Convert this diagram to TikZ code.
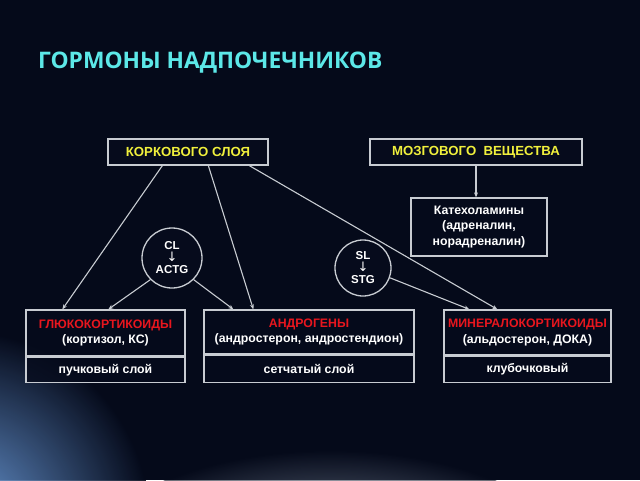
\documentclass[tikz,border=0pt]{standalone}
\usepackage{fontspec}
\setmainfont{Liberation Sans}
\newfontfamily\titlefont{Open Sans}
\newfontfamily\arrfont{DejaVu Sans}
\usetikzlibrary{arrows.meta,calc}
\definecolor{bg}{RGB}{5,10,26}
\definecolor{boxfill}{RGB}{6,11,28}
\definecolor{edge}{RGB}{200,204,210}
\definecolor{ttl}{RGB}{92,232,232}
\definecolor{yel}{RGB}{240,240,60}
\definecolor{redt}{RGB}{232,22,30}
\definecolor{swoosh}{RGB}{70,140,230}
\newcommand{\darr}{{\arrfont\fontsize{13}{11}\mdseries\selectfont ↓}}
\begin{document}
\begin{tikzpicture}[x=1pt,y=-1pt,
  hbox/.style={draw=edge,line width=1.3pt,fill=boxfill,inner sep=0pt,align=center,font=\bfseries\fontsize{13.2}{15}\selectfont},
  part/.style={draw=edge,line width=1.3pt,fill=boxfill,fill opacity=0.75,text opacity=1,inner sep=0pt,align=center,text=white,font=\bfseries\fontsize{12.3}{15.5}\selectfont},
  circ/.style={draw=edge,line width=1.3pt,circle,fill=boxfill,inner sep=0pt,align=center,text=white,font=\bfseries\fontsize{11.5}{12}\selectfont},
  conn/.style={draw=edge,line width=1.1pt,-{Stealth[length=5pt,width=4pt]}}]
\useasboundingbox (0,0) rectangle (640,480);
\fill[bg] (0,0) rectangle (640,480);
\begin{scope}
\clip (0,0) rectangle (640,480);
\shade[inner color=swoosh!75,outer color=bg,opacity=0.9] (-40,520) circle (190);
\shade[inner color=swoosh!25,outer color=bg,opacity=0.6] (330,560) ellipse (240 and 110);
\end{scope}
% title
\node[anchor=west,text=ttl,font=\titlefont\bfseries\fontsize{22.8}{26}\selectfont,inner sep=0pt] (title) at (38,63) {ГОРМОНЫ НАДПОЧЕЧНИКОВ};
% top boxes
\node[hbox,text=yel,minimum width=160,minimum height=26] (kor) at (188,152) {КОРКОВОГО СЛОЯ};
\node[hbox,text=yel,minimum width=212,minimum height=26] (moz) at (476,152) {МОЗГОВОГО\ \ ВЕЩЕСТВА};
\node[part,minimum width=136,minimum height=58] (kat) at (479,227) {Катехоламины\\(адреналин,\\норадреналин)};
% circles
\node[circ,minimum size=60] (cl) at (172,258) {CL\\[0pt]\darr\\[0pt]ACTG};
\node[circ,minimum size=56] (sl) at (363,268) {SL\\[0pt]\darr\\[0pt]STG};
% bottom boxes
\node[part,minimum width=159,minimum height=46] (gl) at (105.5,333) {{\color{redt}ГЛЮКОКОРТИКОИДЫ}\\(кортизол, КС)};
\node[part,minimum width=159,minimum height=25,anchor=north] (glb) at (gl.south) {пучковый слой};
\node[part,minimum width=210,minimum height=44] (an) at (309,332) {{\color{redt}АНДРОГЕНЫ}\\(андростерон, андростендион)};
\node[part,minimum width=210,minimum height=27,anchor=north] (anb) at (an.south) {сетчатый слой};
\node[part,minimum width=167,minimum height=45] (mi) at (527.5,332.5) {{\color{redt}МИНЕРАЛОКОРТИКОИДЫ}\\(альдостерон, ДОКА)};
\node[part,minimum width=167,minimum height=26,anchor=north] (mib) at (mi.south) {клубочковый};
% connectors
\draw[conn] ($(kor.south west)+(55,0)$) -- ($(gl.north west)+(37,0)$);
\draw[conn] ($(kor.south west)+(101,0)$) -- ($(an.north west)+(50,0)$);
\draw[conn] ($(kor.south west)+(142,0)$) -- ($(mi.north west)+(54,0)$);
\draw[conn] (moz.south) -- (moz.south |- kat.north);
\draw[conn] (cl.225) -- ($(gl.north west)+(83,0)$);
\draw[conn] (cl.-45) -- ($(an.north west)+(30,0)$);
\draw[conn] (sl.-20) -- ($(mi.north west)+(26,0)$);
\end{tikzpicture}
\end{document}
